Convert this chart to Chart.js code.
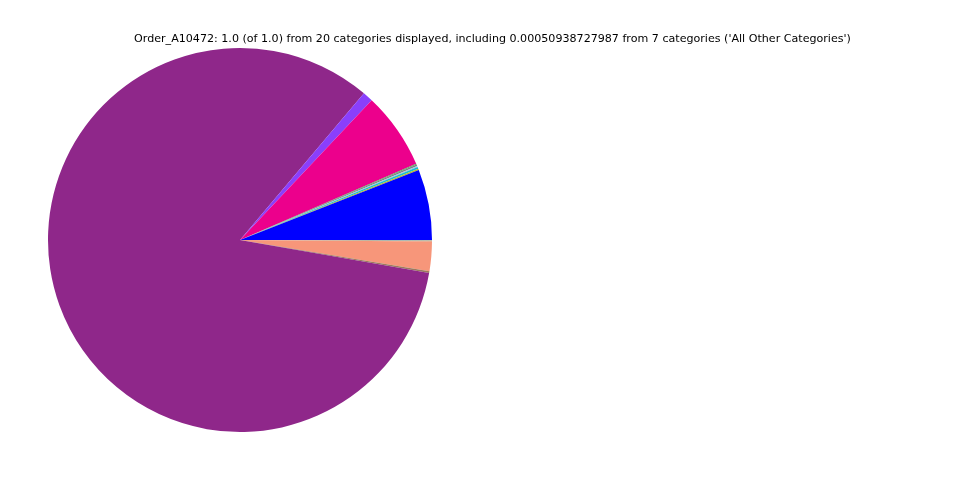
<!DOCTYPE html>
<html>
<head>
<meta charset="utf-8">
<script src="https://cdn.jsdelivr.net/npm/chart.js@4/dist/chart.umd.min.js"></script>
<style>
	html, body { margin: 0; padding: 0; background: #fff; }
	canvas { display: block; }
</style>
</head>
<body>
<canvas id="chart" width="960" height="480"></canvas>
<script>
var titleText = "Order_A10472: 1.0 (of 1.0) from 20 categories displayed, including 0.00050938727987 from 7 categories ('All Other Categories')";

// slices in matplotlib order (counter-clockwise from 3 o'clock)
var categories = [
	'Cat 01', 'Cat 02', 'Cat 03', 'Cat 04', 'Cat 05', 'Cat 06', 'Cat 07', 'Cat 08',
	'Cat 09', 'Cat 10', 'Cat 11', 'Cat 12', 'Cat 13', 'Cat 14', 'Cat 15', 'Cat 16',
	'Cat 17', 'Cat 18', 'Cat 19', 'All Other Categories'
];
var shares = [
	0.0594, 0.0012, 0.0014, 0.0010, 0.0012, 0.0008, 0.0647, 0.0086,
	0.8340, 0.0016, 0.0246, 0.0001, 0.0001, 0.0001, 0.0001, 0.0001,
	0.0001, 0.0001, 0.0001, 0.00051
];
var colours = [
	'#0000ff', '#bcbd22', '#17becf', '#9ecae1', '#7f7f7f', '#4daf4a', '#ec008c', '#8a3ffc',
	'#8f278a', '#9c7a5e', '#f7967a', '#d62728', '#ff7f0e', '#2ca02c', '#1f77b4', '#e377c2',
	'#8c564b', '#aec7e8', '#98df8a', '#c7c7c7'
];

// Chart.js draws clockwise, so reverse to get matplotlib's counter-clockwise layout
var labelsRev = categories.slice().reverse();
var sharesRev = shares.slice().reverse();
var coloursRev = colours.slice().reverse();

var titlePlugin = {
	id: 'plainTitle',
	afterDraw: function(chart) {
		var ctx = chart.ctx;
		ctx.save();
		ctx.font = '11.1px "DejaVu Sans"';
		ctx.fillStyle = '#000';
		ctx.textAlign = 'center';
		ctx.textBaseline = 'middle';
		ctx.fillText(titleText, 492.5, 39.5);
		ctx.restore();
	}
};

var ctx = document.getElementById('chart').getContext('2d');
new Chart(ctx, {
	type: 'pie',
	data: {
		labels: labelsRev,
		datasets: [{
			data: sharesRev,
			backgroundColor: coloursRev,
			borderWidth: 0
		}]
	},
	options: {
		responsive: false,
		animation: false,
		rotation: 90,
		layout: {
			padding: {left: 48, right: 528, top: 48, bottom: 48}
		},
		plugins: {
			legend: {display: false},
			tooltip: {enabled: false},
			title: {display: false}
		}
	},
	plugins: [titlePlugin]
});
</script>
</body>
</html>
